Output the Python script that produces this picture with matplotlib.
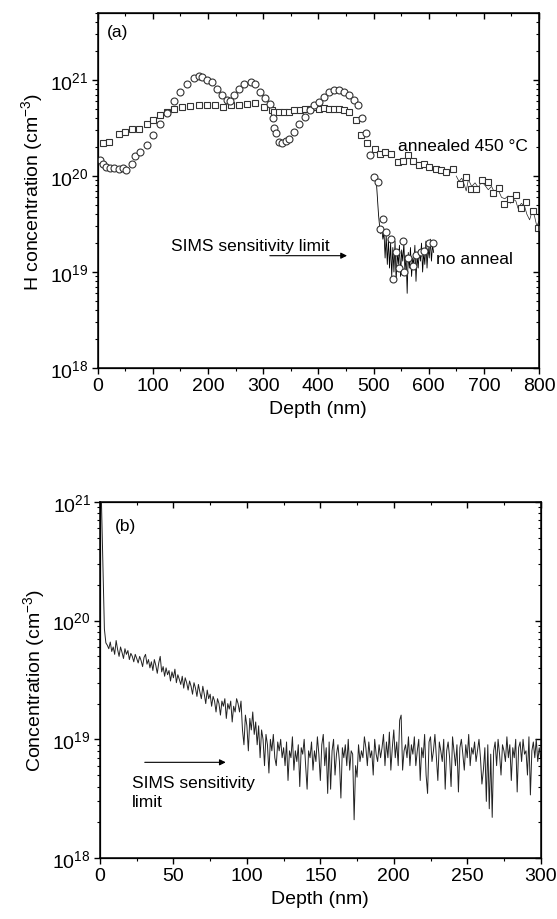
import numpy as np
import matplotlib
matplotlib.use('Agg')
import matplotlib.pyplot as plt
from matplotlib.ticker import MultipleLocator, LogLocator, NullFormatter

plt.rcParams['font.family'] = ['Liberation Sans', 'DejaVu Sans']
plt.rcParams['mathtext.default'] = 'regular'
plt.rcParams['font.size'] = 14

# panel (a): no anneal (circles), depth nm / conc cm^-3
depth_noanneal = [4, 10, 15, 22, 30, 38, 45, 52, 62, 68, 77, 89, 101, 113, 125, 138, 150, 162, 174, 183,
                  189, 198, 207, 216, 225, 235, 240, 247, 256, 265, 277, 286, 295, 304, 313, 317, 320, 323,
                  329, 335, 341, 347, 356, 365, 375, 384, 393, 402, 411, 420, 429, 438, 447, 456, 465, 471,
                  480, 486, 493, 500, 508, 511, 517, 523, 532, 535, 541, 547, 553, 556, 562, 571, 577, 586,
                  592, 601, 607]
conc_noanneal = [1.46e20, 1.35e20, 1.25e20, 1.2e20, 1.22e20, 1.18e20, 1.2e20, 1.15e20, 1.35e20, 1.6e20,
                 1.8e20, 2.1e20, 2.65e20, 3.5e20, 4.5e20, 6.0e20, 7.5e20, 9.0e20, 1.05e21, 1.1e21,
                 1.08e21, 1.0e21, 9.5e20, 8.0e20, 7.0e20, 6.2e20, 6.0e20, 7.0e20, 8.0e20, 9.0e20,
                 9.5e20, 9.0e20, 7.5e20, 6.5e20, 5.6e20, 4.0e20, 3.2e20, 2.8e20, 2.26e20, 2.2e20,
                 2.3e20, 2.45e20, 2.9e20, 3.5e20, 4.1e20, 4.85e20, 5.5e20, 5.9e20, 6.7e20, 7.55e20,
                 7.9e20, 7.9e20, 7.55e20, 7.0e20, 6.2e20, 5.5e20, 4.0e20, 2.8e20, 1.65e20, 9.8e19,
                 8.6e19, 2.8e19, 3.6e19, 2.6e19, 2.2e19, 8.5e18, 1.6e19, 1.1e19, 2.1e19, 1.0e19,
                 1.4e19, 1.15e19, 1.5e19, 1.6e19, 1.65e19, 2.0e19, 2.0e19]
# raw trace underneath the circles (units 1e18)
depth_noanneal_raw = [505, 507, 509, 511, 513, 515, 517, 519, 521, 523, 525, 527, 529, 531, 533, 535, 537,
                      539, 541, 543, 545, 547, 549, 551, 553, 555, 557, 559, 561, 563, 565, 567, 569, 571,
                      573, 575, 577, 579, 581, 583, 585, 587, 589, 591, 593, 595, 597, 599, 601, 603, 605,
                      607, 609]
conc_noanneal_raw = [90, 60, 40, 30, 25, 28, 22, 26, 14, 24, 12, 22, 11, 20, 9, 18, 10, 21, 8, 16, 12, 19,
                     9, 17, 13, 20, 10, 15, 6, 16, 11, 18, 9, 14, 12, 19, 8, 15, 11, 17, 13, 20, 10, 16,
                     12, 21, 11, 18, 14, 22, 13, 19, 16]

# panel (a): annealed 450 C (squares)
depth_anneal = [10, 21, 38, 50, 62, 74, 89, 101, 113, 125, 138, 153, 168, 183, 198, 213, 228, 241, 256,
                271, 286, 301, 316, 320, 329, 338, 347, 356, 366, 375, 384, 393, 402, 411, 420, 429, 438,
                447, 456, 468, 477, 489, 502, 511, 520, 532, 544, 553, 562, 571, 583, 592, 601, 613, 623,
                632, 644, 656, 668, 677, 686, 697, 707, 717, 727, 737, 747, 759, 768, 777, 790, 798]
conc_anneal = [2.2e20, 2.27e20, 2.77e20, 2.9e20, 3.1e20, 3.1e20, 3.5e20, 3.8e20, 4.3e20, 4.66e20,
               5.05e20, 5.25e20, 5.4e20, 5.5e20, 5.55e20, 5.45e20, 5.25e20, 5.45e20, 5.55e20, 5.7e20,
               5.8e20, 5.25e20, 4.85e20, 4.66e20, 4.66e20, 4.66e20, 4.6e20, 4.85e20, 4.85e20, 5.05e20,
               5.05e20, 5.25e20, 5.05e20, 5.15e20, 5.05e20, 5.05e20, 5.05e20, 4.85e20, 4.66e20, 3.8e20,
               2.7e20, 2.2e20, 1.93e20, 1.7e20, 1.78e20, 1.7e20, 1.4e20, 1.45e20, 1.64e20, 1.45e20,
               1.29e20, 1.35e20, 1.24e20, 1.19e20, 1.15e20, 1.1e20, 1.19e20, 8.3e19, 9.8e19, 7.4e19,
               7.4e19, 9.0e19, 8.6e19, 6.6e19, 7.5e19, 5.1e19, 5.7e19, 6.4e19, 4.7e19, 5.35e19,
               4.3e19, 2.9e19]
depth_anneal_raw = [650, 655, 660, 665, 668, 672, 678, 684, 690, 696, 702, 708, 714, 720, 726, 732, 738,
                    744, 748, 752, 758, 762, 768, 774, 778, 783, 788, 792, 796, 800]
conc_anneal_raw = [100, 88, 95, 80, 70, 92, 78, 85, 76, 88, 80, 72, 78, 66, 72, 60, 58, 62, 52, 58, 55,
                   46, 52, 48, 40, 35, 44, 38, 30, 34]

# panel (b): profile, one value per nm from 0 to 300 (units 1e18 cm^-3)
conc_b = [3000, 1000, 300, 85, 65,
          62, 58, 66, 55, 60, 52, 68, 57, 50, 60,
          54, 48, 58, 52, 56, 47, 53, 50, 45, 52,
          48, 44, 50, 46, 41, 49, 52, 43, 47, 40,
          45, 38, 47, 42, 36, 44, 50, 37, 41, 34,
          40, 35, 38, 31, 37, 33, 39, 30, 35, 32,
          29, 34, 27, 33, 30, 26, 31, 28, 24, 30,
          27, 23, 29, 25, 22, 28, 24, 20, 26, 22,
          24, 19, 23, 21, 17, 22, 20, 16, 21, 19,
          22, 15, 20, 18, 21, 14, 19, 17, 22, 20,
          17, 21, 12, 9, 16, 13, 8, 15, 12, 17,
          11, 14, 9, 13, 7, 12, 10, 6, 11, 9,
          5.2, 10, 8, 11, 7, 6, 9.5, 8, 10, 7,
          8.5, 6.0, 9.5, 4.5, 8.0, 7.0, 10.5, 5.5, 8.0, 6.5,
          9.0, 4.0, 8.5, 7.5, 10.0, 6.0, 3.8, 8.0, 7.0, 9.5,
          5.5, 8.0, 6.5, 10.5, 7.5, 4.5, 9.0, 11.0, 6.0, 8.5,
          3.5, 9.5, 3.8, 8.0, 10.0, 5.0, 7.5, 9.0, 6.5, 3.2,
          8.5, 7.0, 9.0, 6.0, 10.0, 5.5, 8.0, 7.5, 2.1, 6.0,
          4.8, 9.0, 6.5, 8.0, 7.0, 10.5, 8.5, 6.0, 9.5, 7.0,
          8.0, 5.0, 10.0, 7.5, 6.5, 9.0, 7.0, 8.5, 11.0, 6.0,
          9.5, 7.0, 11.5, 5.5, 8.5, 12.0, 7.0, 9.5, 6.0, 14.5,
          16.0, 5.5, 8.0, 9.0, 7.0, 10.5, 6.0, 9.0, 7.5, 10.5,
          6.0, 8.0, 10.0, 4.5, 8.5, 7.0, 11.0, 5.0, 3.5, 9.5,
          10.5, 6.5, 8.0, 11.0, 7.0, 4.5, 9.5, 8.0, 6.5, 10.0,
          3.8, 8.0, 9.5, 7.0, 4.0, 10.5, 8.0, 6.0, 9.0, 3.6,
          8.5, 10.0, 7.5, 5.5, 9.0, 7.0, 11.0, 6.0, 8.5, 7.5,
          9.5, 6.5, 8.0, 10.0, 7.0, 4.2, 5.5, 8.5, 3.0, 9.0,
          2.6, 7.5, 2.2, 8.0, 9.5, 6.0, 10.0, 7.5, 5.0, 9.0,
          8.0, 6.5, 10.5, 7.0, 9.0, 4.5, 8.5, 7.0, 10.0, 3.6,
          8.5, 9.5, 6.5, 10.0, 7.5, 8.0, 5.0, 10.5, 3.4, 8.0,
          9.5, 7.0, 10.0, 6.5, 8.5, 7.0]
depth_b = np.arange(len(conc_b))

edge = '#333333'
fig = plt.figure(figsize=(5.57, 9.2), dpi=100)
ax1 = fig.add_axes([0.1754, 0.5989, 0.7923, 0.3859])
ax2 = fig.add_axes([0.1795, 0.0663, 0.7912, 0.3870])


def style(ax, xmax, xmaj, ymax):
    ax.set_yscale('log')
    ax.set_xlim(0, xmax)
    ax.set_ylim(1e18, ymax)
    ax.set_yticks([1e18, 1e19, 1e20, 1e21])
    ax.yaxis.set_minor_locator(LogLocator(base=10, subs=np.arange(2, 10)))
    ax.yaxis.set_minor_formatter(NullFormatter())
    ax.xaxis.set_major_locator(MultipleLocator(xmaj))
    ax.xaxis.set_minor_locator(MultipleLocator(xmaj / 2))
    ax.tick_params(which='major', direction='out', length=4.5, width=1, labelsize=14, pad=2)
    ax.tick_params(which='minor', direction='out', length=2.5, width=0.8)
    for s in ax.spines.values():
        s.set_linewidth(1.1)
    # mirrored ticks on top/right, pointing inward
    axt = ax.twiny()
    axt.set_xlim(0, xmax)
    axt.xaxis.set_major_locator(MultipleLocator(xmaj))
    axt.xaxis.set_minor_locator(MultipleLocator(xmaj / 2))
    axt.tick_params(which='major', direction='in', length=4.5, width=1, labeltop=False)
    axt.tick_params(which='minor', direction='in', length=2.5, width=0.8)
    axr = ax.twinx()
    axr.set_yscale('log')
    axr.set_ylim(1e18, ymax)
    axr.set_yticks([1e18, 1e19, 1e20, 1e21])
    axr.yaxis.set_minor_locator(LogLocator(base=10, subs=np.arange(2, 10)))
    axr.tick_params(which='major', direction='in', length=4.5, width=1, labelright=False)
    axr.tick_params(which='minor', direction='in', length=2.5, width=0.8, labelright=False)
    axr.yaxis.set_minor_formatter(NullFormatter())
    ax.set_zorder(axr.get_zorder() + 1)
    ax.patch.set_visible(False)


style(ax1, 800, 100, 5e21)
ax1.plot(depth_anneal_raw, np.array(conc_anneal_raw) * 1e18, color='#222222', lw=0.5)
ax1.plot(depth_noanneal_raw, np.array(conc_noanneal_raw) * 1e18, color='black', lw=0.6)
ax1.plot(depth_anneal, conc_anneal, ls='none', marker='s', ms=4.3, mfc='white', mec=edge, mew=0.8)
ax1.plot(depth_noanneal, conc_noanneal, ls='none', marker='o', ms=5, mfc='white', mec=edge, mew=0.8)
ax1.set_xlabel('Depth (nm)', fontsize=14, labelpad=4)
ax1.set_ylabel('H concentration (cm$^{-3}$)', fontsize=14, labelpad=4)
ax1.text(17, 3.2e21, '(a)', fontsize=12.5, va='center')
ax1.text(544, 2.1e20, 'annealed 450 \u00b0C', fontsize=12.5, va='center')
ax1.text(614, 1.37e19, 'no anneal', fontsize=12.5, va='center')
ax1.text(132, 1.9e19, 'SIMS sensitivity limit', fontsize=12.5, va='center')
ax1.annotate('', xy=(457, 1.48e19), xytext=(307, 1.48e19),
             arrowprops=dict(arrowstyle='-|>', color='black', lw=0.8, mutation_scale=9))

style(ax2, 300, 50, 1e21)
ax2.plot(depth_b, np.array(conc_b) * 1e18, color='#222222', lw=0.7)
ax2.set_xlabel('Depth (nm)', fontsize=14, labelpad=4)
ax2.set_ylabel('Concentration (cm$^{-3}$)', fontsize=14, labelpad=4)
ax2.text(10, 6.3e20, '(b)', fontsize=12.5, va='center')
ax2.text(21.8, 3.6e18, 'SIMS sensitivity\nlimit', fontsize=12.5, va='center', linespacing=1.3)
ax2.annotate('', xy=(87.5, 6.4e18), xytext=(28.6, 6.4e18),
             arrowprops=dict(arrowstyle='-|>', color='black', lw=0.8, mutation_scale=9))

fig.savefig('out.png', dpi=100)
